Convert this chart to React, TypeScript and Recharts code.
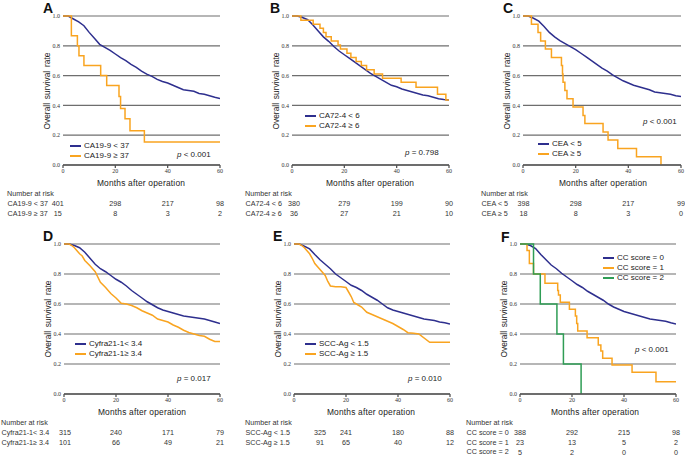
import React from 'react';
import { LineChart, Line, XAxis, YAxis, CartesianGrid, ReferenceDot } from 'recharts';

const BLUE = '#2e2f8e';
const ORANGE = '#f9a420';
const GREEN = '#2f9d55';
const SANS = '"Liberation Sans", Arial, sans-serif';
const SERIF = '"Liberation Serif", "Times New Roman", serif';

const monthTicks = [0, 20, 40, 60];
const rateTicks = [0, 0.2, 0.4, 0.6, 0.8, 1.0];

// survival curves, [month, survival]
const ca199Low: [number, number][] = [
  [0, 1], [2, 1], [4, 0.98], [6, 0.96], [8, 0.935], [10, 0.89], [12, 0.85], [14, 0.81], [16, 0.79],
  [18, 0.77], [20, 0.745], [22, 0.72], [24, 0.7], [26, 0.675], [28, 0.655], [30, 0.63], [32, 0.61],
  [34, 0.595], [36, 0.575], [38, 0.56], [40, 0.55], [42, 0.535], [44, 0.52], [46, 0.505], [48, 0.5],
  [50, 0.495], [52, 0.48], [54, 0.475], [56, 0.465], [58, 0.455], [60, 0.447],
];
const ca199High: [number, number][] = [
  [0, 1], [3.2, 0.867], [5.5, 0.8], [6.1, 0.733], [8, 0.667], [14.4, 0.6], [16.7, 0.533], [21.4, 0.46],
  [22, 0.38], [23.7, 0.31], [25.6, 0.23], [31.1, 0.154], [60, 0.154],
];

const ca724Low: [number, number][] = [
  [0, 1], [2, 1], [4, 0.99], [6, 0.975], [8, 0.94], [10, 0.9], [12, 0.86], [14, 0.83], [16, 0.795],
  [18, 0.765], [20, 0.74], [22, 0.715], [24, 0.69], [26, 0.665], [28, 0.64], [30, 0.615], [32, 0.595],
  [34, 0.575], [36, 0.555], [38, 0.535], [40, 0.525], [42, 0.51], [44, 0.5], [46, 0.49], [48, 0.48],
  [50, 0.47], [52, 0.465], [54, 0.455], [56, 0.445], [58, 0.44], [60, 0.436],
];
const ca724High: [number, number][] = [
  [0, 1], [3.4, 0.972], [8.1, 0.944], [10.7, 0.917], [12, 0.889], [13, 0.861], [15, 0.833], [17.6, 0.806],
  [18.5, 0.778], [21, 0.75], [22.5, 0.722], [24.5, 0.694], [26.5, 0.667], [28.5, 0.639], [31.4, 0.611],
  [34.6, 0.583], [41.7, 0.556], [47.4, 0.521], [55.6, 0.474], [58.8, 0.436], [60, 0.436],
];

const ceaLow: [number, number][] = [
  [0, 1], [2, 1], [4, 0.985], [6, 0.965], [8, 0.93], [10, 0.89], [12, 0.86], [14, 0.835], [16, 0.815],
  [18, 0.795], [20, 0.775], [22, 0.75], [24, 0.725], [26, 0.7], [28, 0.675], [30, 0.65], [32, 0.63],
  [34, 0.605], [36, 0.585], [38, 0.565], [40, 0.55], [42, 0.535], [44, 0.525], [46, 0.515], [48, 0.505],
  [50, 0.49], [52, 0.485], [54, 0.48], [56, 0.475], [58, 0.465], [60, 0.459],
];
const ceaHigh: [number, number][] = [
  [0, 1], [3.2, 0.944], [5.7, 0.889], [6.7, 0.833], [8.5, 0.778], [10.8, 0.722], [14.6, 0.667],
  [15, 0.611], [15.2, 0.556], [15.9, 0.5], [16.7, 0.444], [19, 0.389], [22.8, 0.333], [23.5, 0.278],
  [30.4, 0.222], [32.3, 0.167], [36, 0.111], [43.1, 0.056], [52.4, 0],
];

const cyfraLow: [number, number][] = [
  [0, 1], [2, 1], [4, 0.99], [6, 0.975], [8, 0.945], [10, 0.905], [12, 0.865], [14, 0.835], [16, 0.815],
  [18, 0.79], [20, 0.765], [22, 0.745], [24, 0.72], [26, 0.69], [28, 0.665], [30, 0.64], [32, 0.615],
  [34, 0.595], [36, 0.575], [38, 0.56], [40, 0.55], [42, 0.54], [44, 0.53], [46, 0.52], [48, 0.515],
  [50, 0.51], [52, 0.505], [54, 0.5], [56, 0.49], [58, 0.48], [60, 0.47],
];
const cyfraHigh: [number, number][] = [
  [0, 1], [2, 1], [3, 0.99], [4, 0.975], [5, 0.955], [6, 0.935], [7, 0.92], [8, 0.89], [10, 0.855],
  [12, 0.815], [14, 0.745], [16, 0.71], [18, 0.67], [20, 0.64], [22, 0.605], [24, 0.6], [26, 0.59],
  [28, 0.575], [30, 0.555], [32, 0.54], [34, 0.525], [36, 0.5], [38, 0.49], [40, 0.48], [42, 0.46],
  [44, 0.445], [46, 0.425], [48, 0.41], [50, 0.4], [52, 0.39], [54, 0.385], [56, 0.365], [58, 0.35], [60, 0.35],
];

const sccLow: [number, number][] = [
  [0, 1], [2, 1], [4, 0.985], [6, 0.967], [8, 0.93], [10, 0.895], [12, 0.865], [14, 0.835], [16, 0.8],
  [18, 0.775], [20, 0.75], [22, 0.725], [24, 0.71], [26, 0.69], [28, 0.665], [30, 0.645], [32, 0.625],
  [34, 0.6], [36, 0.575], [38, 0.56], [40, 0.55], [42, 0.54], [44, 0.53], [46, 0.52], [48, 0.51],
  [50, 0.5], [52, 0.495], [54, 0.49], [56, 0.48], [58, 0.475], [60, 0.467],
];
const sccHigh: [number, number][] = [
  [0, 1], [2, 1], [3, 0.99], [4, 0.975], [5, 0.955], [6, 0.935], [7, 0.905], [8, 0.87], [10, 0.83],
  [12, 0.79], [13, 0.75], [14, 0.72], [16, 0.715], [18, 0.715], [20, 0.71], [21, 0.68], [22, 0.65],
  [23, 0.61], [24, 0.6], [26, 0.58], [28, 0.545], [30, 0.53], [32, 0.515], [34, 0.5], [36, 0.485],
  [38, 0.47], [40, 0.45], [42, 0.43], [43.8, 0.409], [46, 0.405], [48, 0.4], [52.2, 0.345], [60, 0.345],
];

const cc0: [number, number][] = [
  [0, 1], [2, 1], [4, 0.99], [6, 0.97], [8, 0.93], [10, 0.895], [12, 0.86], [14, 0.835], [16, 0.805],
  [18, 0.78], [20, 0.755], [22, 0.73], [24, 0.71], [26, 0.685], [28, 0.665], [30, 0.645], [32, 0.625],
  [34, 0.6], [36, 0.58], [38, 0.565], [40, 0.55], [42, 0.54], [44, 0.53], [46, 0.52], [48, 0.51],
  [50, 0.5], [52, 0.495], [54, 0.49], [56, 0.485], [58, 0.475], [60, 0.467],
];
const cc1: [number, number][] = [
  [0, 1], [2.7, 0.957], [3.6, 0.87], [5.2, 0.8], [9.6, 0.738], [14.5, 0.69], [14.8, 0.66], [15.5, 0.611],
  [19, 0.565], [21.3, 0.52], [21.8, 0.47], [22.2, 0.42], [25.8, 0.375], [30.1, 0.327], [31.1, 0.287],
  [31.8, 0.238], [35.4, 0.193], [43.1, 0.145], [52.3, 0.082], [60, 0.082],
];
const cc2: [number, number][] = [
  [0, 1], [5.2, 0.8], [7.8, 0.6], [14.2, 0.4], [16.7, 0.2], [23.5, 0],
];

// numbers at risk at the table columns
const riskA = [[401, 298, 217, 98], [15, 8, 3, 2]];
const riskB = [[380, 279, 199, 90], [36, 27, 21, 10]];
const riskC = [[398, 298, 217, 99], [18, 8, 3, 0]];
const riskD = [[315, 240, 171, 79], [101, 66, 49, 21]];
const riskE = [[325, 241, 180, 88], [91, 65, 40, 12]];
const riskF = [[388, 292, 215, 98], [23, 13, 5, 2], [5, 2, 0, 0]];

// big groups have tiny steps, drawn as a fine line; small groups as a staircase
type Series = { name: string; color: string; pts: [number, number][]; dense?: boolean };
type PanelDef = {
  letter: string;
  pL: number; pR: number; pT: number; pB: number;
  series: Series[];
  risk: number[][];
  firstCol: number;
  p: string;
  legend: [number, number];
  pv: [number, number];
  letterPos: [number, number];
  tableX: number;
  titleX: number;
};

const panels: PanelDef[] = [
  {
    letter: 'A', pL: 63, pR: 220, pT: 16, pB: 165,
    series: [
      { name: 'CA19-9 < 37', color: BLUE, pts: ca199Low, dense: true },
      { name: 'CA19-9 \u2265 37', color: ORANGE, pts: ca199High },
    ],
    risk: riskA, firstCol: -2, p: '< 0.001',
    legend: [70, 146], pv: [177, 155], letterPos: [43, 0.5], tableX: 7, titleX: 141,
  },
  {
    letter: 'B', pL: 292, pR: 449, pT: 16, pB: 165,
    series: [
      { name: 'CA72-4 < 6', color: BLUE, pts: ca724Low, dense: true },
      { name: 'CA72-4 \u2265 6', color: ORANGE, pts: ca724High },
    ],
    risk: riskB, firstCol: 0.8, p: '= 0.798',
    legend: [305, 116], pv: [405, 153], letterPos: [270, 0.5], tableX: 245, titleX: 370,
  },
  {
    letter: 'C', pL: 523, pR: 681, pT: 16, pB: 165,
    series: [
      { name: 'CEA < 5', color: BLUE, pts: ceaLow, dense: true },
      { name: 'CEA \u2265 5', color: ORANGE, pts: ceaHigh },
    ],
    risk: riskC, firstCol: 0.2, p: '< 0.001',
    legend: [538, 144], pv: [643, 122], letterPos: [503, 0.5], tableX: 481, titleX: 603,
  },
  {
    letter: 'D', pL: 64, pR: 220, pT: 244, pB: 394,
    series: [
      { name: 'Cyfra21-1< 3.4', color: BLUE, pts: cyfraLow, dense: true },
      { name: 'Cyfra21-1\u2265 3.4', color: ORANGE, pts: cyfraHigh, dense: true },
    ],
    risk: riskD, firstCol: 0.4, p: '= 0.017',
    legend: [75, 344], pv: [177, 379], letterPos: [43, 228.5], tableX: 1, titleX: 142,
  },
  {
    letter: 'E', pL: 294, pR: 450, pT: 244, pB: 394,
    series: [
      { name: 'SCC-Ag < 1.5', color: BLUE, pts: sccLow, dense: true },
      { name: 'SCC-Ag \u2265 1.5', color: ORANGE, pts: sccHigh, dense: true },
    ],
    risk: riskE, firstCol: 10, p: '= 0.010',
    legend: [305, 344], pv: [408, 379], letterPos: [273, 228.5], tableX: 245, titleX: 371,
  },
  {
    letter: 'F', pL: 520, pR: 676, pT: 244, pB: 394,
    series: [
      { name: 'CC score = 0', color: BLUE, pts: cc0, dense: true },
      { name: 'CC score = 1', color: ORANGE, pts: cc1 },
      { name: 'CC score = 2', color: GREEN, pts: cc2 },
    ],
    risk: riskF, firstCol: 0, p: '< 0.001',
    legend: [603, 258], pv: [635, 350], letterPos: [501, 229.5], tableX: 466, titleX: 595,
  },
];

const ROW_OFF = [38.5, 48.5, 58];

const abs = (x: number, y: number, extra: React.CSSProperties = {}): React.CSSProperties => ({
  position: 'absolute', left: x, top: y, whiteSpace: 'nowrap', lineHeight: 1, ...extra,
});

const Panel = ({ d }: { d: PanelDef }) => {
  const plotH = d.pB - d.pT;
  const boxLeft = d.pL - 60;
  const boxTop = d.pT - 16;
  const width = d.pR - d.pL + 65;
  const height = plotH + 86;
  const cols = [d.firstCol, 20, 40, 60];
  return (
    <>
      <div style={abs(boxLeft, boxTop)}>
        <LineChart width={width} height={height} margin={{ top: 16, right: 5, left: 40, bottom: 50 }}>
          <CartesianGrid vertical={false} stroke="#6e6e6e" strokeWidth={1.2} />
          <XAxis
            type="number" dataKey="t" domain={[0, 60]} ticks={monthTicks} allowDataOverflow
            height={20} stroke="#555" strokeWidth={1.3} tickSize={3} tickMargin={1}
            tick={{ fontSize: 6, fontFamily: SERIF, fill: '#333' }}
          />
          <YAxis
            type="number" domain={[0, 1]} ticks={rateTicks} width={20} axisLine={false} tickLine={false}
            tickSize={2} tickMargin={1} tickFormatter={(v: number) => v.toFixed(1)}
            tick={{ fontSize: 6, fontFamily: SERIF, fill: '#333' }}
          />
          {d.series.map((s) => (
            <Line
              key={s.name} name={s.name} type={s.dense ? 'linear' : 'stepAfter'} dataKey="s"
              data={s.pts.map(([t, v]) => ({ t, s: v }))}
              stroke={s.color} strokeWidth={1.5} dot={false} isAnimationActive={false}
            />
          ))}
          {d.risk.map((row, i) =>
            row.map((n, j) => (
              <ReferenceDot
                key={`${i}-${j}`} x={cols[j]} y={-ROW_OFF[i] / plotH} r={0} ifOverflow="visible"
                shape={(p: any) => (
                  <text x={p.cx} y={p.cy} textAnchor="middle" dominantBaseline="central"
                    fontSize={7.2} fontFamily={SANS} fill="#333">{n}</text>
                )}
              />
            )),
          )}
        </LineChart>
      </div>
      <div style={abs(d.letterPos[0], d.letterPos[1], { fontFamily: SANS, fontWeight: 'bold', fontSize: 14, color: '#111' })}>
        {d.letter}
      </div>
      <div style={abs(d.pL - 16.5, (d.pT + d.pB) / 2, { transform: 'translate(-50%,-50%) rotate(-90deg)', fontFamily: SANS, fontSize: 8.4, color: '#222', wordSpacing: 1.5 })}>
        Overall survival rate
      </div>
      <div style={abs(d.titleX, d.pB + 17.5, { transform: 'translate(-50%,-50%)', fontFamily: SANS, fontSize: 8.4, color: '#222', letterSpacing: 0.2 })}>
        Months after operation
      </div>
      {d.series.map((s, i) => (
        <div key={s.name} style={abs(d.legend[0], d.legend[1] + i * 10, { transform: 'translateY(-50%)', display: 'flex', alignItems: 'center', fontFamily: SANS, fontSize: 8, color: '#222' })}>
          <span style={{ display: 'inline-block', width: 11, height: 1.6, background: s.color, marginRight: 3 }} />
          {s.name}
        </div>
      ))}
      <div style={abs(d.pv[0], d.pv[1], { transform: 'translateY(-50%)', fontFamily: SANS, fontSize: 8, color: '#222' })}>
        <i>p</i> {d.p}
      </div>
      <div style={abs(d.tableX, d.pB + 28.5, { transform: 'translateY(-50%)', fontFamily: SANS, fontSize: 7.2, color: '#333' })}>
        Number at risk
      </div>
      {d.series.map((s, i) => (
        <div key={s.name + 'r'} style={abs(d.tableX + 0.5, d.pB + ROW_OFF[i], { transform: 'translateY(-50%)', fontFamily: SANS, fontSize: 7.2, color: '#333' })}>
          {s.name}
        </div>
      ))}
    </>
  );
};

export default function App() {
  return (
    <div style={{ position: 'absolute', left: 0, top: 0, width: 685, height: 456, overflow: 'hidden', background: '#fff' }}>
      {panels.map((d) => (
        <Panel key={d.letter} d={d} />
      ))}
    </div>
  );
}
